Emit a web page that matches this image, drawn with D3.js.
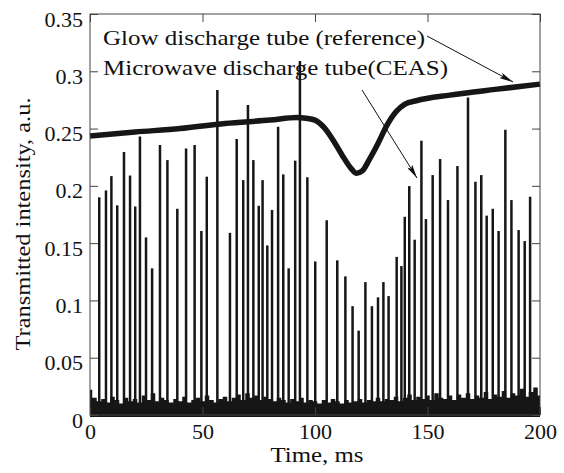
<!DOCTYPE html>
<html>
<head>
<meta charset="utf-8">
<script src="https://cdn.jsdelivr.net/npm/d3@7"></script>
<style>
  body { margin: 0; background: #fff; }
  text { font-family: "Liberation Serif", "Times New Roman", serif; fill: #111; }
</style>
</head>
<body>
<div id="chart-area"></div>
<script>
// Glow discharge tube (reference) signal
let glowTime = [0, 20, 40, 60, 80, 92, 96, 100, 104, 108, 112, 116, 118.5, 121, 124, 128, 132, 136, 140, 145, 160, 180, 200];
let glowValue = [0.2435, 0.247, 0.250, 0.2545, 0.2574, 0.2597, 0.259, 0.2574, 0.251, 0.240, 0.227, 0.2153, 0.211, 0.213, 0.2225, 0.237, 0.253, 0.2647, 0.2714, 0.2743, 0.2792, 0.2842, 0.2888];

// Microwave discharge tube (CEAS) pulse peaks
let pulseTime = [4.1, 7.1, 9.5, 12.1, 15.1, 17.8, 20.1, 22.2, 24.9, 27.6, 31.1, 34.4, 38.8, 42.7, 46.5, 49.5, 51.9, 56.6,
    62.2, 65.2, 68.1, 70.2, 72.6, 75.0, 76.7, 78.8, 80.9, 83.6, 85.9, 88.3, 91.2, 93.3, 96.6, 100.1,
    105.2, 109.9, 113.5, 116.7, 119.4, 122.4, 125.3, 128.0, 130.4, 132.7, 136.3, 138.4, 139.9, 141.9,
    144.3, 147.3, 149.3, 152.3, 155.6, 159.1, 163.3, 168.0, 171.3, 173.9, 176.3, 179.0, 181.6, 184.6,
    187.3, 190.5, 193.2, 195.6];
let pulseValue = [0.190, 0.196, 0.2085, 0.183, 0.2295, 0.209, 0.182, 0.243, 0.155, 0.128, 0.2356, 0.2225, 0.180, 0.2327, 0.2356, 0.1606, 0.208, 0.2836,
    0.159, 0.2408, 0.205, 0.2705, 0.2225, 0.1826, 0.205, 0.148, 0.179, 0.2516, 0.210, 0.128, 0.222, 0.309, 0.2075, 0.134,
    0.170, 0.135, 0.121, 0.095, 0.0736, 0.116, 0.095, 0.1027, 0.116, 0.1038, 0.138, 0.130, 0.173, 0.1998,
    0.153, 0.2394, 0.171, 0.2094, 0.2234, 0.1876, 0.2173, 0.2772, 0.2036, 0.2094, 0.174, 0.180, 0.1606, 0.249,
    0.1876, 0.1614, 0.1518, 0.1905];

// noise floor upper edge, one reading every 2 ms
let floorValue = [0.022, 0.015, 0.012, 0.014, 0.011, 0.016, 0.013, 0.010, 0.015, 0.012, 0.014, 0.011, 0.017, 0.013, 0.019, 0.012,
    0.015, 0.013, 0.011, 0.014, 0.012, 0.016, 0.011, 0.013, 0.015, 0.012, 0.017, 0.013, 0.011, 0.014, 0.016, 0.012,
    0.015, 0.018, 0.013, 0.019, 0.015, 0.017, 0.013, 0.016, 0.014, 0.012, 0.015, 0.013, 0.011, 0.014, 0.012, 0.015,
    0.011, 0.013, 0.012, 0.010, 0.013, 0.011, 0.014, 0.012, 0.010, 0.013, 0.011, 0.012, 0.014, 0.011, 0.013, 0.012,
    0.015, 0.012, 0.014, 0.013, 0.016, 0.012, 0.015, 0.018, 0.013, 0.016, 0.014, 0.017, 0.013, 0.019, 0.015, 0.014,
    0.017, 0.013, 0.018, 0.015, 0.019, 0.014, 0.017, 0.015, 0.020, 0.014, 0.018, 0.016, 0.021, 0.015, 0.019, 0.017,
    0.023, 0.016, 0.020, 0.024, 0.017];

let xTicks = [0, 50, 100, 150, 200];
let yTicks = [0, 0.05, 0.1, 0.15, 0.2, 0.25, 0.3, 0.35];

let svgW = 564, svgH = 473;
let plot = {left: 90, right: 540, top: 14, bottom: 415};

let svg = d3.select("#chart-area").append("svg")
    .attr("width", svgW)
    .attr("height", svgH);

let x = d3.scaleLinear().domain([0, 200]).range([plot.left, plot.right]);
let y = d3.scaleLinear().domain([0, 0.35]).range([plot.bottom, plot.top]);

// arrow marker
svg.append("defs").append("marker")
    .attr("id", "arrow")
    .attr("viewBox", "0 0 14 6")
    .attr("refX", 14).attr("refY", 3)
    .attr("markerWidth", 14).attr("markerHeight", 6)
    .attr("markerUnits", "userSpaceOnUse")
    .attr("orient", "auto")
    .append("path")
    .attr("d", "M0,0 L14,3 L0,6 L3,3 Z")
    .attr("fill", "#111");

// noise floor band
let floorTime = floorValue.map((d, i) => i * 2);
svg.append("path")
    .datum(floorValue)
    .attr("fill", "#161616")
    .attr("d", d3.area()
        .x((d, i) => x(floorTime[i]))
        .y0(y(-0.0017))
        .y1(d => y(d))
        .curve(d3.curveStep));

// pulses
svg.selectAll(".pulse")
    .data(pulseValue)
    .enter().append("line")
    .attr("class", "pulse")
    .attr("x1", (d, i) => x(pulseTime[i]))
    .attr("x2", (d, i) => x(pulseTime[i]))
    .attr("y1", y(0.002))
    .attr("y2", d => y(d))
    .attr("stroke", "#161616")
    .attr("stroke-width", 2.5);

// glow discharge reference line
svg.append("path")
    .datum(glowValue)
    .attr("fill", "none")
    .attr("stroke", "#161616")
    .attr("stroke-width", 5.5)
    .attr("d", d3.line()
        .x((d, i) => x(glowTime[i]))
        .y(d => y(d))
        .curve(d3.curveMonotoneX));

// frame
svg.append("rect")
    .attr("x", plot.left).attr("y", plot.top)
    .attr("width", plot.right - plot.left)
    .attr("height", plot.bottom - plot.top)
    .attr("fill", "none")
    .attr("stroke", "#444")
    .attr("stroke-width", 1);

// axes with inward ticks
let yLeft = d3.axisLeft(y).tickValues(yTicks).tickSize(-8).tickPadding(7).tickFormat(d => d3.format("")(+d.toFixed(2)));
let yRight = d3.axisRight(y).tickValues(yTicks).tickSize(-8).tickFormat("");
let xBottom = d3.axisBottom(x).tickValues(xTicks).tickSize(-8).tickPadding(8);
let xTop = d3.axisTop(x).tickValues(xTicks).tickSize(-8).tickFormat("");

function styleAxis(g) {
    g.select(".domain").remove();
    g.selectAll("line").attr("stroke", "#444");
    g.selectAll("text")
        .style("font-family", "'Liberation Serif', serif")
        .style("font-size", "22px")
        .attr("fill", "#111");
}

svg.append("g").attr("transform", "translate(" + plot.left + ",0)").call(yLeft).call(styleAxis)
    .selectAll("text").attr("dy", "0.55em");
svg.append("g").attr("transform", "translate(" + plot.right + ",0)").call(yRight).call(styleAxis);
svg.append("g").attr("transform", "translate(0," + plot.bottom + ")").call(xBottom).call(styleAxis);
svg.append("g").attr("transform", "translate(0," + plot.top + ")").call(xTop).call(styleAxis);

// axis labels
svg.append("text")
    .attr("x", (plot.left + plot.right) / 2 + 2)
    .attr("y", 462)
    .attr("text-anchor", "middle")
    .attr("textLength", 93)
    .attr("lengthAdjust", "spacingAndGlyphs")
    .style("font-size", "22px")
    .text("Time, ms");

svg.append("text")
    .attr("transform", "translate(30,224) rotate(-90)")
    .attr("text-anchor", "middle")
    .attr("textLength", 253)
    .attr("lengthAdjust", "spacingAndGlyphs")
    .style("font-size", "22px")
    .text("Transmitted intensity, a.u.");

// annotations
svg.append("text")
    .attr("x", 103).attr("y", 45)
    .attr("textLength", 322)
    .attr("lengthAdjust", "spacingAndGlyphs")
    .style("font-size", "22px")
    .text("Glow discharge tube (reference)");

svg.append("text")
    .attr("x", 103).attr("y", 75)
    .attr("textLength", 345)
    .attr("lengthAdjust", "spacingAndGlyphs")
    .style("font-size", "22px")
    .text("Microwave discharge tube(CEAS)");

svg.append("line")
    .attr("x1", 427).attr("y1", 36)
    .attr("x2", 513).attr("y2", 82)
    .attr("stroke", "#111").attr("stroke-width", 1)
    .attr("marker-end", "url(#arrow)");

svg.append("line")
    .attr("x1", 362).attr("y1", 90)
    .attr("x2", 417).attr("y2", 178)
    .attr("stroke", "#111").attr("stroke-width", 1)
    .attr("marker-end", "url(#arrow)");
</script>
</body>
</html>
